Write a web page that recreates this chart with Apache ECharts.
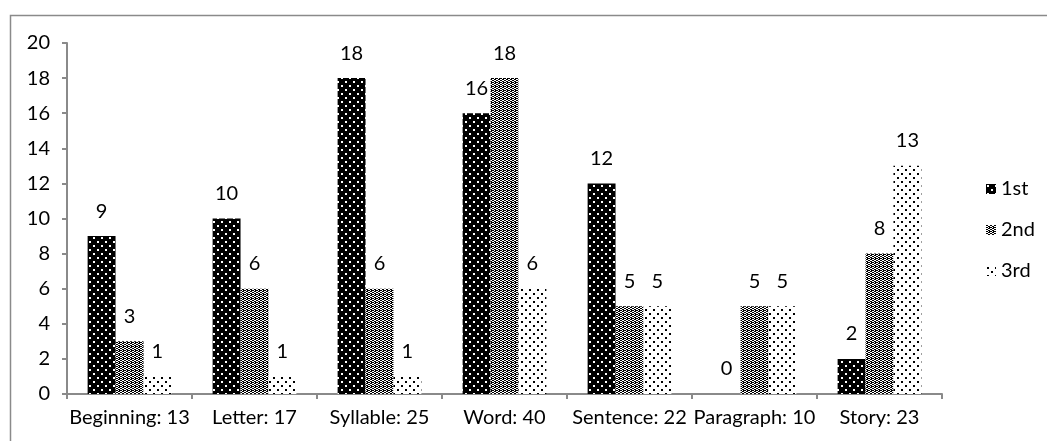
<!DOCTYPE html>
<html>
<head>
<meta charset="utf-8">
<script src="https://cdn.jsdelivr.net/npm/echarts@6/dist/echarts.min.js"></script>
<style>
  html, body { margin: 0; padding: 0; background: #fff; }
  #chart { width: 1047px; height: 441px; }
</style>
</head>
<body>
<div id="chart"></div>
<script>
// categories and values
var categories = ['Beginning: 13', 'Letter: 17', 'Syllable: 25', 'Word: 40', 'Sentence: 22', 'Paragraph: 10', 'Story: 23'];
var seriesNames = ['1st', '2nd', '3rd'];
var firstData = [9, 10, 18, 16, 12, 0, 2];
var secondData = [3, 6, 6, 18, 5, 5, 8];
var thirdData = [1, 1, 1, 6, 5, 5, 13];
var yTicks = [0, 2, 4, 6, 8, 10, 12, 14, 16, 18, 20];

// small canvas tiles used as fill patterns
function makePattern(size, bg, fg, dots) {
	var c = document.createElement('canvas');
	c.width = size; c.height = size;
	var ctx = c.getContext('2d');
	ctx.fillStyle = bg;
	ctx.fillRect(0, 0, size, size);
	ctx.fillStyle = fg;
	for (var i = 0; i < dots.length; i++) {
		ctx.fillRect(dots[i][0], dots[i][1], dots[i][2] || 1, dots[i][3] || 1);
	}
	return { image: c, repeat: 'repeat' };
}

var pat1 = makePattern(8, '#000', '#fff', [[1, 1, 2, 2], [5, 5, 2, 2]]);
var pat2 = makePattern(4, '#fff', '#000', [[0, 0, 2, 1], [2, 1, 2, 1], [0, 2, 2, 1], [2, 3, 2, 1], [1, 0], [3, 2]]);
var pat3 = makePattern(8, '#fff', '#000', [[1, 1, 2, 2], [5, 5, 2, 2]]);
var patterns = [pat1, pat2, pat3];
var allData = [firstData, secondData, thirdData];

var font = 'Lato, "Open Sans", sans-serif';
var chart = echarts.init(document.getElementById('chart'));

var series = [];
for (var i = 0; i < seriesNames.length; i++) {
	series.push({
		name: seriesNames[i],
		type: 'bar',
		data: allData[i],
		barGap: '0%',
		barCategoryGap: '33%',
		itemStyle: { color: patterns[i] },
		label: {
			show: true,
			position: 'top',
			distance: 15,
			color: '#000',
			fontSize: 20,
			fontFamily: font
		},
		emphasis: { disabled: true }
	});
}

var option = {
	animation: false,
	backgroundColor: '#fff',
	graphic: [{
		type: 'rect',
		left: 8, top: 13,
		shape: { width: 1046, height: 440 },
		style: { fill: 'none', stroke: '#8a8a8a', lineWidth: 1.5 },
		silent: true
	}],
	grid: { left: 67, right: 105, top: 43, bottom: 47 },
	legend: {
		orient: 'vertical',
		left: 981,
		top: 174,
		itemWidth: 10,
		itemHeight: 10,
		itemGap: 21,
		icon: 'rect',
		data: seriesNames,
		textStyle: { color: '#000', fontSize: 20, fontFamily: font }
	},
	xAxis: {
		type: 'category',
		data: categories,
		axisLine: { lineStyle: { color: '#8a8a8a', width: 2 } },
		axisTick: { show: true, length: 5, lineStyle: { color: '#8a8a8a', width: 2 } },
		axisLabel: { color: '#000', fontSize: 20, fontFamily: font, margin: 14, interval: 0 },
		splitLine: { show: false }
	},
	yAxis: {
		type: 'value',
		min: yTicks[0],
		max: yTicks[yTicks.length - 1],
		interval: 2,
		axisLine: { show: true, lineStyle: { color: '#8a8a8a', width: 2 } },
		axisTick: { show: true, length: 5, lineStyle: { color: '#8a8a8a', width: 2 } },
		axisLabel: { color: '#000', fontSize: 20, fontFamily: font, margin: 17 },
		splitLine: { show: false }
	},
	series: series
};
chart.setOption(option);
</script>
</body>
</html>
